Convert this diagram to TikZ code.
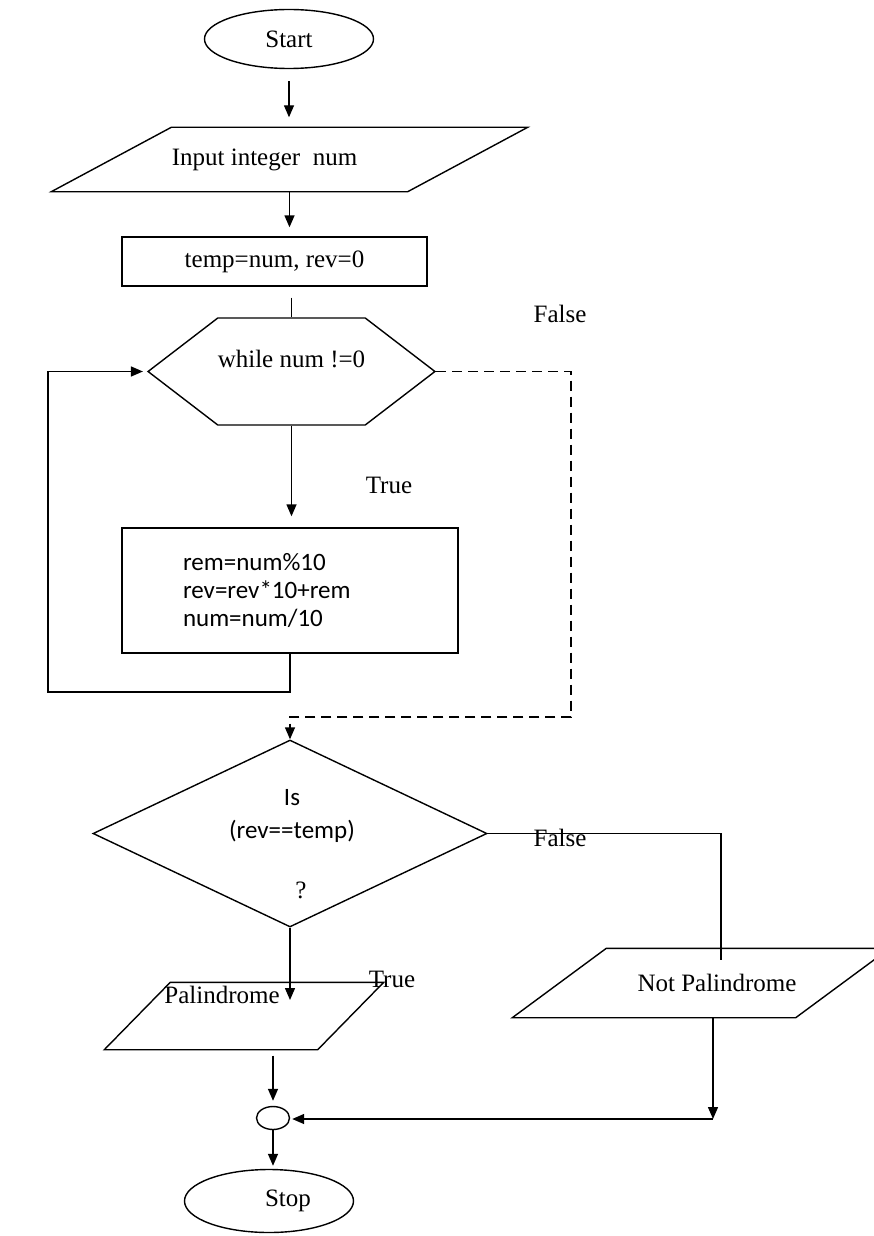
\documentclass[tikz,border=0pt]{standalone}
\usepackage{fontspec}
\setmainfont{Liberation Serif}
\setsansfont{Carlito}
\usepackage{tikz}
\usetikzlibrary{shapes,arrows.meta,positioning,calc}
% slanted input/output box drawn round a plain node
\newcommand{\slantbox}[2]{\draw ($(#1.south west)$) -- ($(#1.north west)+(#2,0)$) -- (#1.north east) -- ($(#1.south east)-(#2,0)$) -- cycle;}

\begin{document}
\begin{tikzpicture}[x=1pt, y=-1pt, line width=1.4pt,
    every node/.style={font=\fontsize{25}{30}\selectfont, inner sep=0pt},
    terminal/.style={draw, ellipse, minimum width=169pt, minimum height=59pt},
    iobox/.style={rectangle},
    procbox/.style={draw, rectangle},
    loopbox/.style={draw, signal, signal to=east and west, signal pointer angle=75, minimum width=281pt, minimum height=107pt},
    decision/.style={draw, diamond, minimum width=394pt, minimum height=187pt},
    sftext/.style={font=\sffamily\fontsize{25}{28}\selectfont},
    arr/.style={-{Triangle[length=12pt,width=10pt]}},
    dasharr/.style={arr, dash pattern=on 10pt off 6pt}]
    \useasboundingbox (0,0) rectangle (874,1236);

    % Start
    \node[terminal] (start) at (289,39) {Start};
    % Input
    \node[iobox, minimum width=475pt, minimum height=63pt] (inp) at (289.5,159.5) {Input integer~ num\hspace*{50pt}};
    \slantbox{inp}{120}
    % Init
    \node[procbox, minimum width=305pt, minimum height=49pt] (init) at (274.5,261.5) {temp=num, rev=0};
    % While loop
    \node[loopbox, text height=17pt, text depth=26pt] (loop) at (291.5,371.5) {while num !=0};
    % Loop body
    \node[procbox, sftext, minimum height=125pt, text width=214pt, inner xsep=61pt, align=left] (body) at (290,590.5) {rem=num\%10\\rev=rev*10+rem\\num=num/10};
    % Check
    \node[decision] (chk) at (290,833.5) {};
    \node[font=\sffamily\fontsize{25}{33}\selectfont, align=center] (cond) at (292,816) {Is\\(rev==temp)};
    \node (qm) at (301,890) {?};
    % Outputs
    \node[iobox, minimum width=278pt, minimum height=66pt] (pal) at (244,1016) {};
    \slantbox{pal}{66}
    \node (paltxt) at (222,995) {Palindrome};
    \node[iobox, minimum width=376pt, minimum height=68pt] (np) at (701,983) {\hspace*{32pt}Not Palindrome};
    \slantbox{np}{94}
    % Join and Stop
    \node[draw, ellipse, minimum width=33pt, minimum height=23pt] (jn) at (273,1118) {};
    \node[terminal, minimum height=63pt] (stop) at (269,1201) {\hspace*{38pt}Stop};

    % Labels
    \node (f1) at (560,314) {False};
    \node (t1) at (389,485) {True};
    \node (f2) at (560,838) {False};
    \node (t2) at (392,979) {True};

    % Connectors
    \coordinate (back) at (48,692);
    \coordinate (fcorner) at (571,717);
    \coordinate (npin) at (721,960);
    \coordinate (rjoin) at (713,1119);
    \draw[arr, shorten <=12pt, shorten >=10pt] (start.south) -- (start.south |- inp.north);
    \draw[arr, shorten >=9pt] (inp.south) -- (inp.south |- init.north);
    \draw[shorten <=11pt] (loop.north |- init.south) -- (loop.north);
    \draw[arr, shorten >=11pt] (loop.south) -- (loop.south |- body.north);
    \draw[arr, shorten >=4pt] (body.south) |- (back) |- (loop.west);
    \draw[dasharr] (loop.east) -| (fcorner) -| (chk.north);
    \draw[arr, shorten >=16pt] (chk.south) -- (chk.south |- pal.center);
    \draw (chk.east) -| (npin);
    \draw[arr, shorten <=6pt, shorten >=5pt] (jn.north |- pal.south) -- (jn.north);
    \draw[arr] (rjoin |- np.south) -- (rjoin);
    \draw[arr, shorten >=2pt] (rjoin) -- (rjoin -| jn.east);
    \draw[arr, shorten >=3pt] (jn.south) -- (jn.south |- stop.north);
\end{tikzpicture}
\end{document}
